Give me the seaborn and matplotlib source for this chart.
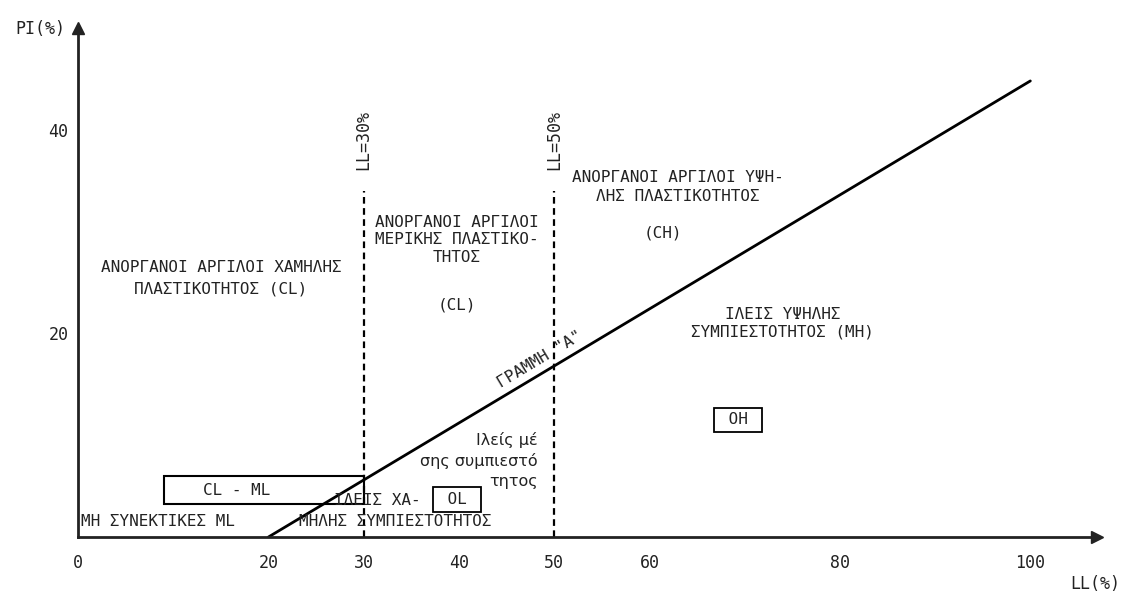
import numpy as np
import pandas as pd
import matplotlib
matplotlib.use("Agg")
import matplotlib.pyplot as plt
from matplotlib.patches import Rectangle
import seaborn as sns

# data
a_line_ll = [20, 100]
a_line_pi = [0, 44.8]
limit_ll = [30, 50]          # LL = 30% and LL = 50% boundaries
limit_top = 34.0
clml_ll = [9.0, 30.0]        # CL - ML band
clml_pi = [3.2, 6.0]
x_ticks = [0, 20, 30, 40, 50, 60, 80, 100]
y_ticks = [20, 40]

sns.set_theme(style="white")
mono = ["DejaVu Sans Mono", "DejaVu Sans"]
plt.rcParams["font.family"] = mono

fig = plt.figure(figsize=(11.46, 5.94), dpi=100)
ax = fig.add_axes([78 / 1146, 57 / 594, 1019 / 1146, 509 / 594])
ax.set_xlim(0, 107)
ax.set_ylim(0, 50)

df = pd.DataFrame({"LL": a_line_ll, "PI": a_line_pi})
sns.lineplot(data=df, x="LL", y="PI", ax=ax, color="black", linewidth=2)

for ll in limit_ll:
    ax.plot([ll, ll], [0, limit_top], color="black", linestyle=(0, (3, 2)), linewidth=1.6)
    ax.text(ll, limit_top + 5, f"LL={ll}%", rotation=90, ha="center", va="center",
            fontsize=12, color="#222")

ax.add_patch(Rectangle((clml_ll[0], clml_pi[0]), clml_ll[1] - clml_ll[0], clml_pi[1] - clml_pi[0],
                       fill=False, edgecolor="black", linewidth=1.5))

# axes
for s in ["top", "right"]:
    ax.spines[s].set_visible(False)
for s in ["left", "bottom"]:
    ax.spines[s].set_linewidth(2)
    ax.spines[s].set_color("#222")
ax.plot(1, 0, ">", color="#222", markersize=9, transform=ax.get_yaxis_transform(), clip_on=False)
ax.plot(0, 1, "^", color="#222", markersize=9, transform=ax.get_xaxis_transform(), clip_on=False)

ax.set_xticks(x_ticks)
ax.set_yticks(y_ticks)
ax.tick_params(axis="x", direction="inout", length=8, width=1.2, pad=8, labelsize=12, colors="#222")
ax.tick_params(axis="y", direction="out", length=4, width=1.2, pad=3, labelsize=12, colors="#222")
ax.set_xlabel("")
ax.set_ylabel("")
ax.text(-4.0, 49.9, "PI(%)", ha="center", va="center", fontsize=12, color="#222")
ax.text(106.8, -4.6, "LL(%)", ha="center", va="center", fontsize=12, color="#222",
        clip_on=False)

txt = dict(fontsize=11.5, color="#222", linespacing=1.5)
ax.text(15.0, 25.4, "ΑΝΟΡΓΑΝΟΙ ΑΡΓΙΛΟΙ ΧΑΜΗΛΗΣ\nΠΛΑΣΤΙΚΟΤΗΤΟΣ (CL)", ha="center", va="center", **txt)
ax.text(39.8, 29.2, "ΑΝΟΡΓΑΝΟΙ ΑΡΓΙΛΟΙ\nΜΕΡΙΚΗΣ ΠΛΑΣΤΙΚΟ-\nΤΗΤΟΣ", ha="center", va="center",
        fontsize=11.5, color="#222", linespacing=1.2)
ax.text(39.8, 22.8, "(CL)", ha="center", va="center", **txt)
ax.text(63.0, 34.4, "ΑΝΟΡΓΑΝΟΙ ΑΡΓΙΛΟΙ ΥΨΗ-\nΛΗΣ ΠΛΑΣΤΙΚΟΤΗΤΟΣ", ha="center", va="center",
        fontsize=11.5, color="#222", linespacing=1.3)
ax.text(61.4, 29.9, "(CH)", ha="center", va="center", **txt)
ax.text(74.0, 21.0, "ΙΛΕΙΣ ΥΨΗΛΗΣ\nΣΥΜΠΙΕΣΤΟΤΗΤΟΣ (ΜΗ)", ha="center", va="center",
        fontsize=11.5, color="#222", linespacing=1.2)
box = dict(boxstyle="square,pad=0.3", fc="white", ec="black", lw=1.3)
ax.text(69.3, 11.5, " OH ", ha="center", va="center", fontsize=11.5, color="#222", bbox=box)
ax.text(39.8, 3.7, " OL ", ha="center", va="center", fontsize=11.5, color="#222", bbox=box)
ax.text(16.7, 4.6, "CL - ML", ha="center", va="center", **txt)
ax.text(26.9, 3.6, "ΙΛΕΙΣ ΧΑ-", ha="left", va="center", **txt)
ax.text(33.3, 1.5, "ΜΗΛΗΣ ΣΥΜΠΙΕΣΤΟΤΗΤΟΣ", ha="center", va="center", **txt)
ax.text(0.3, 1.5, "ΜΗ ΣΥΝΕΚΤΙΚΕΣ ML", ha="left", va="center", **txt)

# medium compressibility silts, one line at a time
for pi, line in zip([9.5, 7.5, 5.5], ["Ιλείς μέ", "σης συμπιεστό", "τητος"]):
    ax.text(48.3, pi, line, ha="right", va="center", fontsize=11.5, color="#222",
            family=["DejaVu Sans"])

# label along the A-line
p0 = ax.transData.transform((a_line_ll[0], a_line_pi[0]))
p1 = ax.transData.transform((a_line_ll[1], a_line_pi[1]))
angle = np.degrees(np.arctan2(p1[1] - p0[1], p1[0] - p0[0]))
ax.text(48.5, 17.4, "ΓΡΑΜΜΗ \"Α\"", rotation=angle, rotation_mode="anchor",
        ha="center", va="center", **txt)

fig.savefig("out.png", dpi=100, facecolor="white")
